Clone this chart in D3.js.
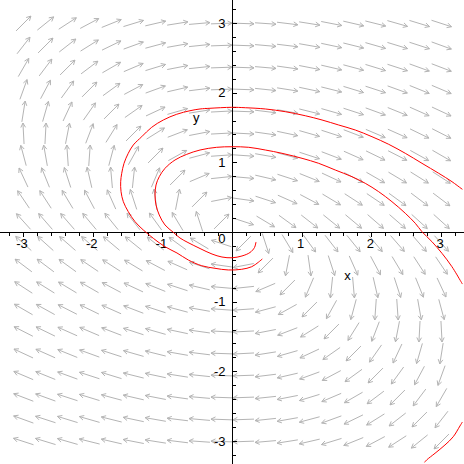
<!DOCTYPE html>
<html>
<head>
<meta charset="utf-8">
<script src="https://d3js.org/d3.v7.min.js"></script>
<style>
body { margin: 0; background: #fff; }
</style>
</head>
<body>
<div id="my_dataviz"></div>
<script>
// grid points of the direction field
var gridX = [-3, -2.684, -2.368, -2.053, -1.737, -1.421, -1.105, -0.789, -0.474, -0.158,
             0.158, 0.474, 0.789, 1.105, 1.421, 1.737, 2.053, 2.368, 2.684, 3];
var gridY = [3, 2.684, 2.368, 2.053, 1.737, 1.421, 1.105, 0.789, 0.474, 0.158,
             -0.158, -0.474, -0.789, -1.105, -1.421, -1.737, -2.053, -2.368, -2.684, -3];

// arrow direction in degrees (counter-clockwise from +x), one row per gridY value
var arrowAngles = [
  [45, 39, 33, 28, 22, 17, 13, 9, 5, 2, -2, -4, -7, -9, -11, -13, -14, -16, -17, -18],
  [52, 45, 38, 32, 26, 20, 15, 10, 6, 2, -2, -5, -7, -10, -12, -14, -16, -17, -18, -20],
  [60, 53, 45, 37, 30, 23, 17, 11, 6, 2, -2, -5, -8, -11, -13, -15, -17, -18, -20, -21],
  [70, 62, 54, 45, 36, 28, 20, 13, 7, 2, -2, -6, -9, -12, -14, -17, -18, -20, -22, -23],
  [81, 74, 65, 55, 45, 35, 25, 16, 9, 3, -2, -7, -10, -14, -16, -18, -20, -22, -24, -25],
  [93, 87, 79, 69, 58, 45, 32, 21, 11, 3, -3, -8, -12, -16, -18, -21, -23, -24, -26, -27],
  [105, 100, 94, 86, 75, 61, 45, 29, 15, 4, -4, -10, -15, -18, -21, -24, -26, -27, -29, -30],
  [115, 112, 108, 103, 95, 84, 67, 45, 23, 6, -5, -13, -18, -22, -25, -28, -30, -31, -32, -33],
  [124, 123, 121, 118, 114, 108, 98, 79, 45, 11, -8, -18, -24, -28, -31, -33, -34, -36, -37, -37],
  [132, 131, 131, 130, 129, 128, 126, 121, 108, 45, -18, -31, -36, -38, -39, -40, -41, -41, -42, -42],
  [138, 138, 139, 139, 140, 141, 142, 144, 149, 162, -135, -72, -59, -54, -52, -51, -50, -49, -49, -48],
  [143, 143, 144, 146, 147, 149, 152, 156, 162, 172, -169, -135, -101, -82, -72, -66, -62, -59, -57, -56],
  [147, 148, 149, 150, 152, 155, 158, 162, 167, 175, -174, -157, -135, -113, -96, -85, -77, -72, -68, -65],
  [150, 151, 153, 154, 156, 159, 162, 165, 170, 176, -176, -165, -151, -135, -119, -105, -94, -86, -80, -75],
  [153, 154, 156, 157, 159, 162, 164, 168, 172, 177, -177, -169, -159, -148, -135, -122, -111, -101, -93, -87],
  [155, 156, 158, 160, 162, 164, 166, 170, 173, 178, -177, -171, -164, -155, -145, -135, -125, -115, -106, -99],
  [157, 158, 160, 162, 163, 166, 168, 171, 174, 178, -178, -173, -167, -160, -152, -144, -135, -126, -118, -110],
  [159, 160, 162, 163, 165, 167, 169, 172, 175, 178, -178, -174, -169, -163, -157, -150, -143, -135, -127, -120],
  [160, 162, 163, 164, 166, 168, 170, 173, 175, 178, -178, -174, -170, -165, -160, -154, -148, -142, -135, -128],
  [162, 163, 164, 166, 167, 169, 171, 173, 176, 178, -178, -175, -171, -167, -163, -158, -152, -147, -141, -135]
];

// solution curves [x, y]
var curveInner = [
  [0.337, -0.136], [0.316, -0.215], [0.251, -0.287], [0.136, -0.337], [-0.007, -0.363],
  [-0.151, -0.352], [-0.294, -0.309], [-0.466, -0.230], [-0.639, -0.144], [-0.754, -0.079],
  [-0.850, 0.003], [-0.969, 0.108], [-1.051, 0.251], [-1.098, 0.395], [-1.112, 0.538],
  [-1.098, 0.682], [-1.051, 0.801], [-0.969, 0.921], [-0.825, 1.041], [-0.657, 1.122],
  [-0.466, 1.184], [-0.227, 1.223], [-0.007, 1.231], [0.233, 1.223], [0.471, 1.184],
  [0.710, 1.137], [0.998, 1.065], [1.237, 0.993], [1.475, 0.897], [1.715, 0.801],
  [1.906, 0.706], [2.098, 0.586], [2.289, 0.442], [2.480, 0.276], [2.624, 0.132],
  [2.720, 0.011], [2.863, -0.132], [3.007, -0.299], [3.150, -0.491], [3.280, -0.706],
  [3.300, -0.740]
];
var curveOuter = [
  [0.428, -0.380], [0.370, -0.428], [0.276, -0.491], [0.132, -0.528], [-0.060, -0.538],
  [-0.251, -0.514], [-0.442, -0.477], [-0.634, -0.395], [-0.797, -0.294], [-0.969, -0.204],
  [-1.137, -0.083], [-1.280, 0.036], [-1.399, 0.155], [-1.496, 0.299], [-1.567, 0.442],
  [-1.600, 0.586], [-1.605, 0.729], [-1.590, 0.850], [-1.557, 0.993], [-1.496, 1.137],
  [-1.424, 1.256], [-1.303, 1.375], [-1.160, 1.510], [-0.993, 1.615], [-0.801, 1.697],
  [-0.610, 1.748], [-0.466, 1.773], [-0.323, 1.783], [-0.011, 1.797], [0.184, 1.791],
  [0.471, 1.773], [0.758, 1.734], [1.045, 1.676], [1.285, 1.615], [1.524, 1.543],
  [1.763, 1.471], [2.002, 1.375], [2.242, 1.266], [2.480, 1.137], [2.720, 0.993],
  [2.960, 0.850], [3.151, 0.729], [3.280, 0.634], [3.300, 0.620]
];
var curveCorner = [
  [3.300, -2.720], [3.265, -2.777], [3.169, -2.931], [3.050, -3.050], [2.907, -3.169],
  [2.787, -3.265], [2.756, -3.300]
];

var majorTicks = [-3, -2, -1, 0, 1, 2, 3];
var tickLabels = [-3, -2, -1, 1, 2, 3];
var minorTicks = d3.range(-16, 17).map(function (i) { return i / 5; });

var width = 464, height = 464;

var svg = d3.select("#my_dataviz")
    .append("svg")
    .attr("width", width)
    .attr("height", height)
    .style("display", "block");

var x = d3.scaleLinear().domain([-3, 3]).range([23.5, 441.5]);
var y = d3.scaleLinear().domain([-3, 3]).range([441.5, 23.5]);

// direction field
var arrowLen = 21, headLen = 5, headAngle = 28 * Math.PI / 180;
var arrows = [];
gridY.forEach(function (gy, j) {
    gridX.forEach(function (gx, k) {
        arrows.push({ x: gx, y: gy, a: arrowAngles[j][k] });
    });
});

svg.append("g")
    .selectAll("path")
    .data(arrows)
    .enter()
    .append("path")
    .attr("fill", "none")
    .attr("stroke", "#b4b4b4")
    .attr("stroke-width", 1)
    .attr("d", function (d) {
        var cx = x(d.x), cy = y(d.y), t = d.a * Math.PI / 180;
        var ux = Math.cos(t), uy = -Math.sin(t);
        var x0 = cx - ux * arrowLen / 2, y0 = cy - uy * arrowLen / 2;
        var x1 = cx + ux * arrowLen / 2, y1 = cy + uy * arrowLen / 2;
        var b = Math.atan2(-uy, -ux);
        return "M" + x0 + "," + y0 + "L" + x1 + "," + y1 +
            "M" + (x1 + headLen * Math.cos(b + headAngle)) + "," + (y1 + headLen * Math.sin(b + headAngle)) +
            "L" + x1 + "," + y1 +
            "L" + (x1 + headLen * Math.cos(b - headAngle)) + "," + (y1 + headLen * Math.sin(b - headAngle));
    });

// axis lines through the origin
svg.append("line")
    .attr("x1", 0).attr("x2", width)
    .attr("y1", y(0)).attr("y2", y(0))
    .attr("stroke", "black");
svg.append("line")
    .attr("x1", x(0)).attr("x2", x(0))
    .attr("y1", 0).attr("y2", height)
    .attr("stroke", "black");

// X axis ticks and labels
var xAxisG = svg.append("g")
    .attr("transform", "translate(0," + y(0) + ")")
    .attr("shape-rendering", "crispEdges");
xAxisG.append("g")
    .call(d3.axisBottom(x).tickValues(minorTicks).tickSize(3).tickFormat("").offset(0));
xAxisG.append("g")
    .call(d3.axisBottom(x).tickValues(majorTicks).tickSize(4).tickFormat("").offset(0));
xAxisG.append("g")
    .call(d3.axisBottom(x).tickValues(tickLabels).tickSize(4).tickPadding(2).offset(0)
        .tickFormat(function (d) { return String(d); }))
    .attr("font-size", 13)
    .attr("font-family", "'Liberation Sans', Arial, sans-serif")
    .selectAll("text").attr("dx", "-1.5");
xAxisG.selectAll(".domain").remove();

// Y axis ticks and labels
var yAxisG = svg.append("g")
    .attr("transform", "translate(" + x(0) + ",0)")
    .attr("shape-rendering", "crispEdges");
yAxisG.append("g")
    .call(d3.axisRight(y).tickValues(minorTicks).tickSize(3).tickFormat("").offset(0));
yAxisG.append("g")
    .call(d3.axisRight(y).tickValues(majorTicks).tickSize(4).tickFormat("").offset(0));
var yLab = yAxisG.append("g")
    .call(d3.axisLeft(y).tickValues(tickLabels).tickSize(0).tickPadding(7).offset(0)
        .tickFormat(function (d) { return String(d); }))
    .attr("font-size", 13)
    .attr("font-family", "'Liberation Sans', Arial, sans-serif");
yLab.selectAll("line").remove();
yAxisG.selectAll(".domain").remove();

// origin label and axis names
svg.append("text")
    .attr("x", x(0) - 7).attr("y", y(0) + 10.5)
    .attr("text-anchor", "end")
    .attr("font-size", 13)
    .attr("font-family", "'Liberation Sans', Arial, sans-serif")
    .text("0");
svg.append("text")
    .attr("x", x(1.65)).attr("y", y(-0.68))
    .attr("text-anchor", "middle")
    .attr("font-size", 13)
    .attr("font-family", "'Liberation Sans', Arial, sans-serif")
    .text("x");
svg.append("text")
    .attr("x", x(-0.52)).attr("y", y(1.58))
    .attr("text-anchor", "middle")
    .attr("font-size", 13)
    .attr("font-family", "'Liberation Sans', Arial, sans-serif")
    .text("y");

// Add the solution curves
var line = d3.line()
    .x(function (d) { return x(d[0]); })
    .y(function (d) { return y(d[1]); })
    .curve(d3.curveCatmullRom);

[curveInner, curveOuter, curveCorner].forEach(function (c) {
    svg.append("path")
        .datum(c)
        .attr("fill", "none")
        .attr("stroke", "red")
        .attr("stroke-width", 1)
        .attr("d", line);
});
</script>
</body>
</html>
